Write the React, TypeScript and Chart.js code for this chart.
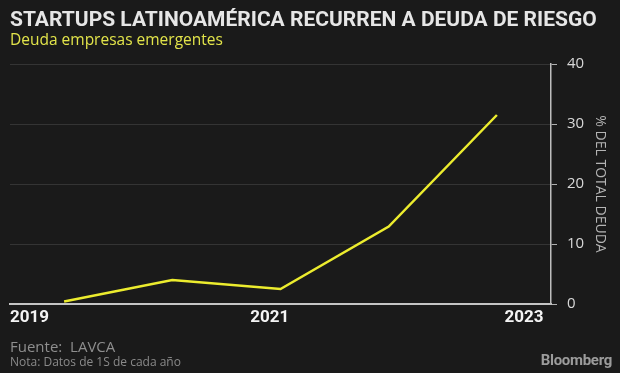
import React, { useEffect, useRef } from 'react';
import { Chart, registerables } from 'chart.js';

Chart.register(...registerables);

// ---- data ----
const years = [2019, 2020, 2021, 2022, 2023];
const debtShare = [0.4, 4.0, 2.5, 12.9, 31.5];
const xTickLabels = ['2019', '2021', '2023'];
const yTickValues = [0, 10, 20, 30, 40];

const TITLE = 'STARTUPS LATINOAMÉRICA RECURREN A DEUDA DE RIESGO';
const SUBTITLE = 'Deuda empresas emergentes';
const Y_TITLE = '% DEL TOTAL DEUDA';
const SOURCE = 'Fuente:  LAVCA';
const NOTE = 'Nota: Datos de 1S de cada año';
const BRAND = 'Bloomberg';

const BG = '#1a1a1a';

export default function App() {
  const ref = useRef<HTMLCanvasElement>(null);

  useEffect(() => {
    document.body.style.margin = '0';
    document.body.style.background = BG;
    const labelAnchors = [2019, 2021.4, 2023.93];
    const chart = new Chart(ref.current as HTMLCanvasElement, {
      type: 'line',
      data: {
        datasets: [
          {
            data: years.map((y, i) => ({ x: y + 0.5, y: debtShare[i] })),
            borderColor: '#ecec2e',
            borderWidth: 2.5,
            pointRadius: 0,
            tension: 0,
            fill: false,
          },
        ],
      },
      options: {
        animation: false,
        responsive: false,
        maintainAspectRatio: false,
        layout: { padding: { left: 10, top: 64, right: 0, bottom: 0 } },
        plugins: {
          legend: { display: false },
          tooltip: { enabled: false },
          title: { display: false },
        },
        scales: {
          x: {
            type: 'linear',
            min: 2019,
            max: 2024,
            afterBuildTicks: (s: any) => {
              s.ticks = labelAnchors.map((v) => ({ value: v }));
            },
            afterFit: (s: any) => {
              s.height = 69;
            },
            grid: { display: false, drawTicks: false },
            border: { display: true, color: '#c4c4c4', width: 2 },
            ticks: {
              align: 'inner',
              padding: 4,
              color: '#f4f4f4',
              autoSkip: false,
              maxRotation: 0,
              font: { family: 'Roboto', weight: 'bold', size: 17 },
              callback: (_v: any, i: number) => xTickLabels[i],
            },
          },
          y: {
            position: 'right',
            min: 0,
            max: 40,
            afterBuildTicks: (s: any) => {
              s.ticks = yTickValues.map((v) => ({ value: v }));
            },
            afterFit: (s: any) => {
              s.width = 69;
            },
            grid: { color: '#343434', tickColor: '#b0b0b0', tickLength: 6, lineWidth: 1 },
            border: { display: true, color: '#bdbdbd', width: 1.5 },
            ticks: {
              padding: 10,
              color: '#d8d8d8',
              font: { family: 'Open Sans', size: 15 },
            },
            title: {
              display: true,
              text: Y_TITLE,
              color: '#b4b4b4',
              font: { family: 'Open Sans', size: 14 },
              padding: 12,
            },
          },
        },
      } as any,
    });
    return () => chart.destroy();
  }, []);

  const base: React.CSSProperties = { position: 'absolute', whiteSpace: 'pre', margin: 0 };

  return (
    <div style={{ position: 'relative', width: 620, height: 373, background: BG, overflow: 'hidden' }}>
      <canvas ref={ref} width={620} height={373} style={{ display: 'block', position: 'absolute', left: 0, top: 0 }} />
      <div style={{ ...base, left: 10, top: 9.3, fontFamily: 'Roboto', fontWeight: 700, fontSize: 21, lineHeight: '21px', color: '#e6e6e6' }}>{TITLE}</div>
      <div style={{ ...base, left: 10, top: 31.6, fontFamily: 'Open Sans', fontSize: 15.5, lineHeight: '15.5px', color: '#e2e44a' }}>{SUBTITLE}</div>
      <div style={{ ...base, left: 10, top: 339.2, fontFamily: 'Open Sans', fontSize: 15, lineHeight: '15px', color: '#8e8e8e' }}>{SOURCE}</div>
      <div style={{ ...base, left: 10, top: 355.5, fontFamily: 'Open Sans', fontSize: 12, lineHeight: '12px', color: '#8a8a8a' }}>{NOTE}</div>
      <div style={{ ...base, right: 8, top: 353, fontFamily: 'Roboto', fontWeight: 700, fontSize: 15, lineHeight: '15px', color: '#9c9c9c', letterSpacing: -0.3 }}>{BRAND}</div>
    </div>
  );
}
